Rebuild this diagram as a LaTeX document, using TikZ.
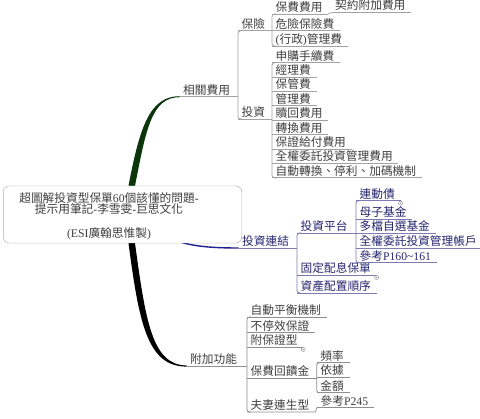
\documentclass[tikz,border=0pt]{standalone}
\usepackage{fontspec}
\setmainfont{Noto Sans CJK TC}
\newfontfamily\lat{Liberation Serif}
\usepackage{xcolor,tikz}
\usetikzlibrary{arrows.meta,positioning}
\definecolor{txt}{HTML}{3E3E3E}
\definecolor{bluetxt}{HTML}{24246E}
\definecolor{grayline}{HTML}{A2A2A2}
\definecolor{blueline}{HTML}{7C7CB2}
\definecolor{blackline}{HTML}{8E8E8E}
\definecolor{greenbr}{HTML}{0B360B}
\definecolor{bluebr}{HTML}{1E1E8C}
\definecolor{boxline}{HTML}{B8B8B8}

\begin{document}
\begin{tikzpicture}[x=1pt,y=-1pt,
  topic/.style={anchor=south west,inner xsep=3.5pt,inner ysep=.8pt,text height=9pt,text depth=1.5pt,
    font=\fontsize{11.7}{12}\selectfont,text=txt},
  bluetopic/.style={topic,text=bluetxt},
  gline/.style={draw=grayline,line width=.8pt},
  bline/.style={draw=blueline,line width=.8pt},
  kline/.style={draw=blackline,line width=.8pt},
  fork/.style={rounded corners=2.5pt},
  linkdot/.style={draw=blackline,fill=white,line width=.5pt},
  rootbox/.style={draw=boxline,fill=white,rounded corners=6pt,minimum width=238.4pt,minimum height=57pt,inner sep=0pt},
  titletext/.style={align=center,text=txt,font=\fontsize{11.7}{11.5}\selectfont}]
\useasboundingbox (0,0) rectangle (480,419);

% main topic (box first, curves are drawn round it)
\node[rootbox] (root) at (122.5,214.5) {};

% first level topics
\node[topic] (gf) at (179.5,96.7) {相關費用};
\node[bluetopic] (tl) at (238.5,248) {投資連結};
\node[topic] (fj) at (186.5,366) {附加功能};

% tapered branches
\fill[greenbr] ([xshift=6pt]root.north) .. controls +(11,-57) and +(-30.5,0) .. ([yshift=.5pt]gf.south west)
  -- ([yshift=-.5pt]gf.south west) .. controls +(-28,0) and +(11,-56) .. ([xshift=12.5pt]root.north) -- cycle;
\fill[black] ([xshift=6pt]root.south) .. controls +(10.5,79) and +(-39.5,0) .. ([yshift=-.6pt]fj.south west)
  -- ([yshift=.6pt]fj.south west) .. controls +(-34.5,0) and +(10.5,77) .. ([xshift=12.5pt]root.south) -- cycle;
\draw[bluebr,line width=1.4pt] ([shift={(28,12)}]root.center) .. controls +(22,18) and +(-40,0) .. (tl.south west);
\node[rootbox] (rootcover) at (root) {};
\node[titletext] (title) at (109,216) {超圖解投資型保單{\lat 60}個該懂的問題{\lat -}\\
  提示用筆記{\lat -}李雪雯{\lat -}巨思文化\\[12pt]{\lat (ESI}廣翰思惟製{\lat )}};

% 相關費用
\node[topic] (bx) at (238,30.7) {保險};
\node[topic] (tz) at (238,119) {投資};
\node[topic] (bf) at (272,14) {保費費用};
\node[topic] (yf) at (331.5,12.5) {契約附加費用};
\node[topic] (wx) at (272,30.7) {危險保險費};
\node[topic] (xz) at (272,46) {{\lat (}行政{\lat )}管理費};
\foreach \t [count=\i] in {申購手續費,經理費,保管費,管理費,贖回費用,轉換費用,保證給付費用,全權委託投資管理費用,自動轉換、停利、加碼機制}{
  \node[topic] (tz\i) at (272,48.3+14.4*\i) {\t};
  \draw[gline] (tz\i.south west) -- ([xshift=2pt]tz\i.south east);
}

% 投資連結
\node[bluetopic] (pt) at (297,233) {投資平台};
\node[bluetopic] (gd) at (297,275) {固定配息保單};
\node[bluetopic] (zc) at (297,293) {資產配置順序};
\node[bluetopic] (ld) at (356,200.7) {連動債};
\node[bluetopic] (mz) at (356,219) {母子基金};
\node[bluetopic] (dd) at (356,233) {多檔自選基金};
\node[bluetopic] (qq) at (356,248) {全權委託投資管理帳戶};
\node[bluetopic] (ck) at (356,262.7) {參考{\lat P160\textasciitilde161}};

% 附加功能
\node[topic] (ph) at (247,317) {自動平衡機制};
\node[topic] (bt) at (247,332.7) {不停效保證};
\node[topic] (fb) at (247,347) {附保證型};
\node[topic] (hk) at (247,378) {保費回饋金};
\node[topic] (fq) at (247,412) {夫妻連生型};
\node[topic] (pl) at (316.7,362.7) {頻率};
\node[topic] (yj) at (316.7,377) {依據};
\node[topic] (je) at (316.7,392.7) {金額};
\node[topic] (ck2) at (317,407.7) {參考{\lat P245}};

% underlines of the leaves
\foreach \n in {bf,wx,xz,yf}
  \draw[gline] (\n.south west) -- ([xshift=2pt]\n.south east);
\foreach \n in {ld,mz,dd,qq,ck,gd,zc}
  \draw[bline] (\n.south west) -- ([xshift=2pt]\n.south east);
\foreach \n in {ph,bt,fb,pl,yj,je,ck2}
  \draw[kline] (\n.south west) -- ([xshift=2pt]\n.south east);

% parents run on to their fork
\draw[gline] (gf.south west) -- (gf.south west -| bx.south west);
\draw[gline] (bx.south west) -- (bx.south west -| bf.south west);
\draw[gline] (tz.south west) -- (tz.south west -| tz1.south west);
\draw[bline] (tl.south west) -- (tl.south west -| pt.south west);
\draw[bline] (pt.south west) -- (pt.south west -| ld.south west);
\draw[kline] (fj.south west) -- (fj.south west -| ph.south west);
\draw[kline] (hk.south west) -- (hk.south west -| pl.south west);
\draw[gline] ([xshift=2pt]bf.south east) .. controls +(2,0) and +(-1.5,0) .. (yf.south west);
\draw[kline] (fq.south west) -- ([xshift=2pt]fq.south east) .. controls +(2,0) and +(-1.5,0) .. (ck2.south west);

% forks
\foreach \a/\b/\s in {bx/tz/gline,bf/xz/gline,tz1/tz9/gline,pt/zc/bline,ld/ck/bline,ph/fq/kline,pl/je/kline}
  \draw[\s,fork] ([xshift=4pt]\a.south west) -- (\a.south west) -- (\b.south west) -- ([xshift=4pt]\b.south west);

% link marks
\foreach \n in {ld,gd,fb}{
  \draw[linkdot] ([xshift=2pt,yshift=-2.5pt]\n.south east) circle (2pt);
  \fill[blackline] ([xshift=2pt,yshift=-2.5pt]\n.south east) circle (.6pt);
}
\end{tikzpicture}
\end{document}
